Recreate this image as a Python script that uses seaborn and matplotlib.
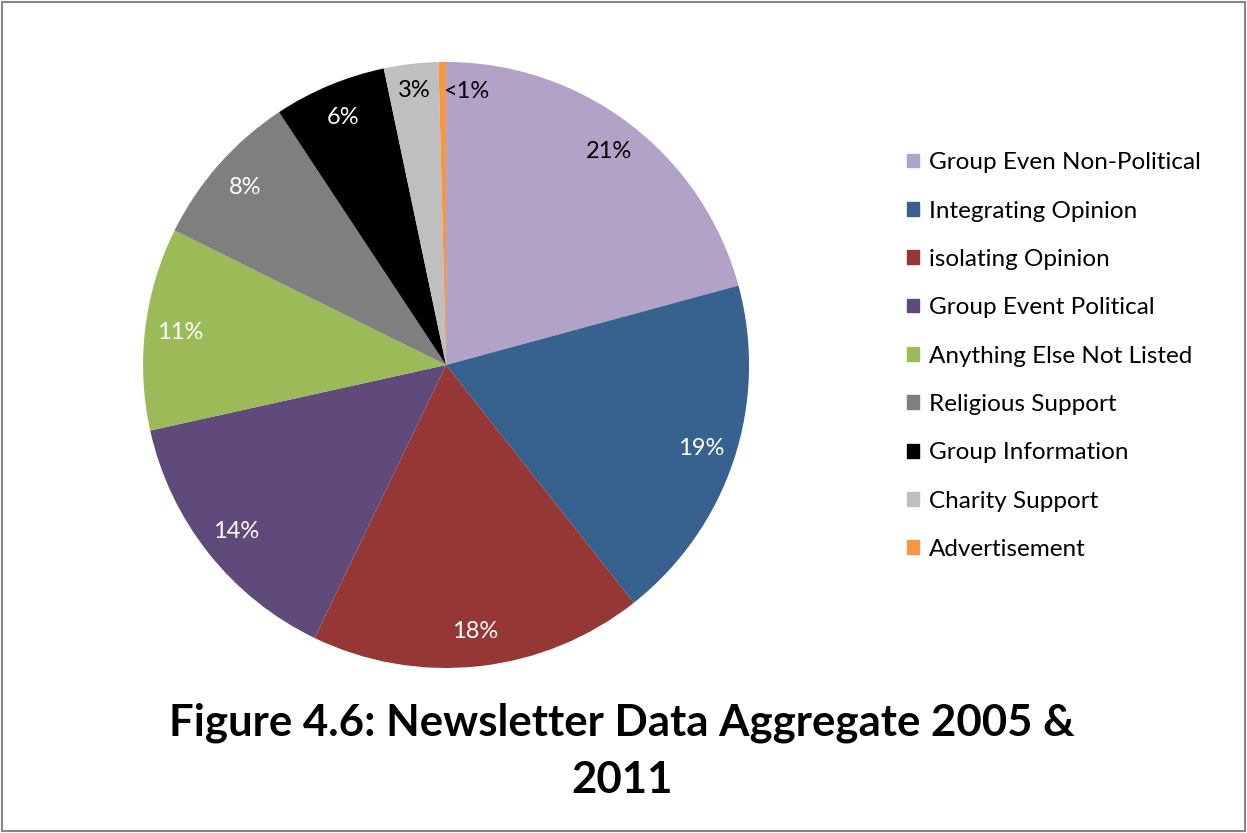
import matplotlib
matplotlib.use("Agg")
import matplotlib.pyplot as plt
import matplotlib.patches as mpatches
import seaborn as sns

# Share of newsletter items by category (percent)
categories = [
    "Group Even Non-Political",
    "Integrating Opinion",
    "isolating Opinion",
    "Group Event Political",
    "Anything Else Not Listed",
    "Religious Support",
    "Group Information",
    "Charity Support",
    "Advertisement",
]
shares = [20.8, 18.6, 17.8, 14.4, 10.8, 8.4, 6.0, 2.9, 0.4]
slice_colors = ["#B3A2C7", "#37618F", "#953735", "#604A7B", "#9BBB59",
                "#7F7F7F", "#000000", "#BFBFBF", "#F79646"]
label_colors = ["black", "white", "white", "white", "white",
                "white", "white", "black", "black"]
title_text = "Figure 4.6: Newsletter Data Aggregate 2005 &\n2011"

sns.set_theme(style="white")
plt.rcParams["font.family"] = ["Lato", "DejaVu Sans"]
plt.rcParams["text.color"] = "black"
palette = sns.color_palette(slice_colors)

fig = plt.figure(figsize=(12.47, 8.33), dpi=100)
ax = fig.add_axes([0.1147, 0.1981, 0.486, 0.7275])


def pct_label(p):
    return "<1%" if p < 1 else f"{p:.0f}%"


wedges, texts, autotexts = ax.pie(
    shares,
    colors=palette,
    startangle=90,
    counterclock=False,
    autopct=pct_label,
    pctdistance=0.885,
    radius=1.0,
    wedgeprops=dict(linewidth=0),
    textprops=dict(fontsize=17),
)
for t, c in zip(autotexts, label_colors):
    t.set_color(c)
# small slices: push the labels a little outward
autotexts[7].set_position((autotexts[7].get_position()[0] * 1.03,
                           autotexts[7].get_position()[1] * 1.03))
x8, y8 = autotexts[8].get_position()
autotexts[8].set_position((x8, y8 * 1.02))
autotexts[8].set_ha("left")

ax.set_xlim(-1, 1)
ax.set_ylim(-1, 1)
ax.set_aspect("equal")
ax.axis("off")

handles = [mpatches.Patch(color=c, label=l) for c, l in zip(palette, categories)]
fig.legend(handles=handles, loc="upper left",
           bbox_to_anchor=(0.7195, 0.829), frameon=False,
           fontsize=17.5, handlelength=0.5, handleheight=0.5,
           handletextpad=0.42, labelspacing=1.125, borderaxespad=0)

fig.text(0.499, 0.098, title_text, ha="center", va="center",
         fontsize=31.5, fontweight="bold", linespacing=1.52, color="black")

fig.patches.append(mpatches.Rectangle((0.002, 0.003), 0.996, 0.994,
                                      transform=fig.transFigure, fill=False,
                                      edgecolor="#868686", linewidth=1.5))

fig.savefig("out.png", dpi=100)
